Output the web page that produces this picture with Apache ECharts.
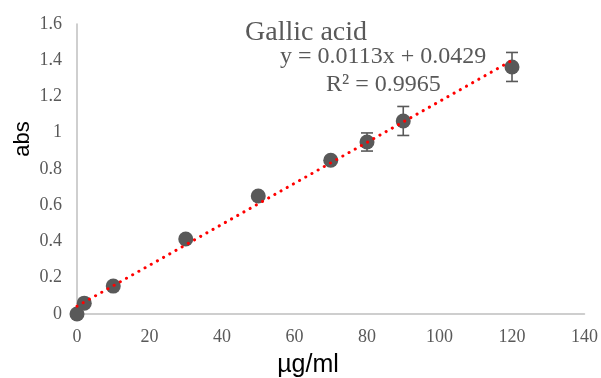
<!DOCTYPE html>
<html><head><meta charset="utf-8">
<script src="https://cdn.jsdelivr.net/npm/echarts@6/dist/echarts.min.js"></script>
<style>html,body{margin:0;padding:0;background:#fff}#c{width:601px;height:378px}</style>
</head><body><div id="c"></div>
<script>
var concX = [0, 2, 10, 30, 50, 70, 80, 90, 120];
var absY = [0, 0.06, 0.154, 0.414, 0.651, 0.848, 0.949, 1.065, 1.363];
var errY = [0, 0, 0, 0, 0, 0, 0.05, 0.08, 0.08];
var trendX = [0, 120];
var trendY = [0.0429, 1.3989];
var xTicks = [0, 20, 40, 60, 80, 100, 120, 140];
var yTicks = [0, 0.2, 0.4, 0.6, 0.8, 1, 1.2, 1.4, 1.6];

var pts = concX.map(function (x, i) { return [x, absY[i]]; });
var errData = concX.map(function (x, i) { return [x, absY[i] - errY[i], absY[i] + errY[i]]; }).filter(function (d, i) { return errY[i] > 0; });
var trend = trendX.map(function (x, i) { return [x, trendY[i]]; });

var chart = echarts.init(document.getElementById('c'), null, { renderer: 'canvas' });
var gray = '#595959';
chart.setOption({
  animation: false,
  grid: { left: 77, right: 16, top: 24, bottom: 64 },
  graphic: [
    { type: 'text', left: 245, top: 19, style: { text: 'Gallic acid', font: '28px "Liberation Serif"', fill: gray } },
    { type: 'text', left: 280, top: 45, style: { text: 'y = 0.0113x + 0.0429', font: '24px "Liberation Serif"', fill: gray } },
    { type: 'text', left: 326, top: 73, style: { text: 'R² = 0.9965', font: '24px "Liberation Serif"', fill: gray } },
    { type: 'text', x: 23, y: 139, rotation: Math.PI / 2, style: { text: 'abs', font: '22px "Liberation Sans"', fill: '#000', align: 'center', verticalAlign: 'middle' } },
    { type: 'text', x: 308, y: 365, style: { text: 'µg/ml', font: '25px "Liberation Sans"', fill: '#000', align: 'center', verticalAlign: 'middle' } }
  ],
  xAxis: {
    type: 'value', min: xTicks[0], max: xTicks[xTicks.length - 1], interval: 20,
    axisLine: { show: true, lineStyle: { color: '#bfbfbf', width: 1.5 } },
    axisTick: { show: false }, splitLine: { show: false },
    axisLabel: { margin: 14, fontFamily: 'Liberation Serif', fontSize: 18, color: gray }
  },
  yAxis: {
    type: 'value', min: yTicks[0], max: yTicks[yTicks.length - 1], interval: 0.2,
    axisLine: { show: true, lineStyle: { color: '#bfbfbf', width: 1.5 } },
    axisTick: { show: false }, splitLine: { show: false },
    axisLabel: { margin: 15, fontFamily: 'Liberation Serif', fontSize: 18, color: gray,
      formatter: function (v) { return String(Math.round(v * 10) / 10); } }
  },
  series: [
    {
      type: 'scatter', data: pts, symbolSize: 15, z: 2,
      itemStyle: { color: gray, opacity: 1 }
    },
    {
      type: 'custom', data: errData, z: 3,
      renderItem: function (params, api) {
        var x = api.value(0);
        var lo = api.coord([x, api.value(1)]);
        var hi = api.coord([x, api.value(2)]);
        var w = 6;
        var st = { stroke: gray, lineWidth: 1.6 };
        return { type: 'group', children: [
          { type: 'line', shape: { x1: hi[0], y1: hi[1], x2: lo[0], y2: lo[1] }, style: st },
          { type: 'line', shape: { x1: hi[0] - w, y1: hi[1], x2: hi[0] + w, y2: hi[1] }, style: st },
          { type: 'line', shape: { x1: lo[0] - w, y1: lo[1], x2: lo[0] + w, y2: lo[1] }, style: st }
        ] };
      }
    },
    {
      type: 'line', data: trend, symbol: 'none', z: 4,
      lineStyle: { color: '#ff0000', width: 3, type: [0.1, 7], cap: 'round' }
    }
  ]
});
</script></body></html>
